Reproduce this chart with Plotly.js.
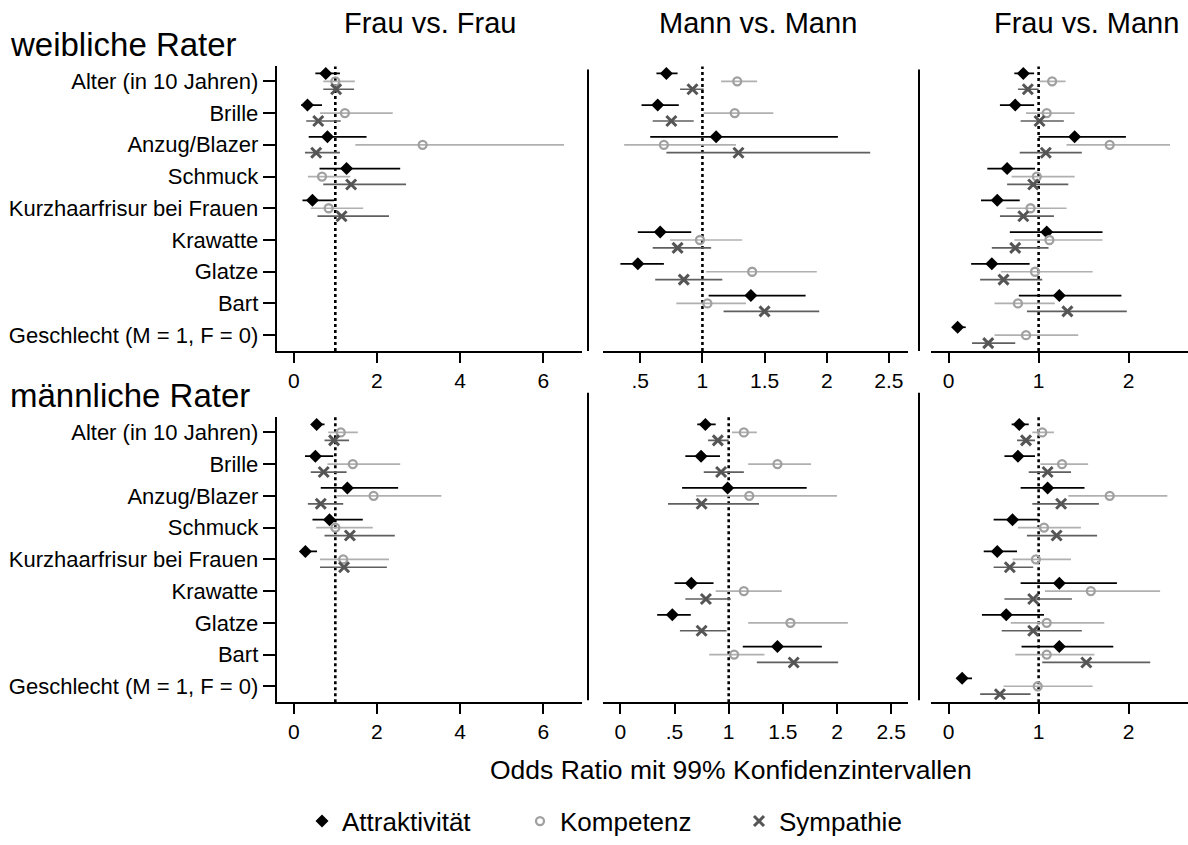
<!DOCTYPE html>
<html>
<head>
<meta charset="utf-8">
<script src="https://cdn.plot.ly/plotly-3.0.1.min.js"></script>
<style>
html,body{margin:0;padding:0;background:#fff;}
#chart{width:1188px;height:845px;}
</style>
</head>
<body>
<div id="chart"></div>
<script>
// ---------- DATA ----------
const categories = ['Alter (in 10 Jahren)','Brille','Anzug/Blazer','Schmuck','Kurzhaarfrisur bei Frauen','Krawatte','Glatze','Bart','Geschlecht (M = 1, F = 0)'];
const seriesNames = ['Attraktivität','Kompetenz','Sympathie'];
const panelTitles = ['Frau vs. Frau','Mann vs. Mann','Frau vs. Mann'];
const rowTitles = ['weibliche Rater','männliche Rater'];
const xTitle = 'Odds Ratio mit 99% Konfidenzintervallen';
const tickValsFF = [0,2,4,6];
const tickTextFF = ['0','2','4','6'];
const tickValsMMtop = [0.5,1,1.5,2,2.5];
const tickTextMMtop = ['.5','1','1.5','2','2.5'];
const tickValsMMbot = [0,0.5,1,1.5,2,2.5];
const tickTextMMbot = ['0','.5','1','1.5','2','2.5'];
const tickValsFM = [0,1,2];
const tickTextFM = ['0','1','2'];
const N = null;

// weibliche Rater – Frau vs. Frau
const w_ff_attr    = [0.77,0.33,0.81,1.27,0.45,N,N,N,N];
const w_ff_attr_lo = [0.52,0.18,0.36,0.62,0.21,N,N,N,N];
const w_ff_attr_hi = [1.11,0.68,1.75,2.56,0.97,N,N,N,N];
const w_ff_komp    = [1.00,1.23,3.10,0.68,0.84,N,N,N,N];
const w_ff_komp_lo = [0.71,0.63,1.48,0.34,0.41,N,N,N,N];
const w_ff_komp_hi = [1.47,2.38,6.50,1.36,1.67,N,N,N,N];
const w_ff_symp    = [1.02,0.59,0.54,1.38,1.15,N,N,N,N];
const w_ff_symp_lo = [0.71,0.30,0.27,0.71,0.57,N,N,N,N];
const w_ff_symp_hi = [1.45,1.13,1.11,2.70,2.29,N,N,N,N];
// weibliche Rater – Mann vs. Mann
const w_mm_attr    = [0.71,0.64,1.11,N,N,0.66,0.48,1.39,N];
const w_mm_attr_lo = [0.63,0.51,0.58,N,N,0.48,0.34,1.05,N];
const w_mm_attr_hi = [0.80,0.81,2.09,N,N,0.91,0.69,1.83,N];
const w_mm_komp    = [1.28,1.26,0.69,N,N,0.98,1.40,1.04,N];
const w_mm_komp_lo = [1.15,1.01,0.37,N,N,0.74,1.03,0.79,N];
const w_mm_komp_hi = [1.44,1.57,1.27,N,N,1.32,1.92,1.35,N];
const w_mm_symp    = [0.92,0.75,1.29,N,N,0.80,0.85,1.50,N];
const w_mm_symp_lo = [0.82,0.60,0.71,N,N,0.60,0.62,1.17,N];
const w_mm_symp_hi = [1.01,0.93,2.35,N,N,1.07,1.16,1.94,N];
// weibliche Rater – Frau vs. Mann
const w_fm_attr    = [0.83,0.74,1.40,0.65,0.54,1.09,0.48,1.23,0.10];
const w_fm_attr_lo = [0.73,0.57,1.00,0.43,0.36,0.68,0.25,0.78,0.06];
const w_fm_attr_hi = [0.95,0.95,1.97,0.96,0.79,1.71,0.90,1.92,0.19];
const w_fm_komp    = [1.15,1.09,1.79,0.98,0.91,1.12,0.96,0.77,0.86];
const w_fm_komp_lo = [1.01,0.86,1.31,0.70,0.64,0.73,0.58,0.51,0.51];
const w_fm_komp_hi = [1.30,1.40,2.46,1.40,1.31,1.71,1.60,1.18,1.44];
const w_fm_symp    = [0.88,1.01,1.08,0.94,0.83,0.74,0.61,1.32,0.44];
const w_fm_symp_lo = [0.77,0.80,0.79,0.65,0.57,0.48,0.35,0.87,0.26];
const w_fm_symp_hi = [1.00,1.28,1.48,1.33,1.17,1.11,1.04,1.98,0.74];
// männliche Rater – Frau vs. Frau
const m_ff_attr    = [0.55,0.52,1.29,0.86,0.28,N,N,N,N];
const m_ff_attr_lo = [0.44,0.27,0.65,0.45,0.18,N,N,N,N];
const m_ff_attr_hi = [0.74,0.95,2.51,1.66,0.56,N,N,N,N];
const m_ff_komp    = [1.13,1.42,1.92,1.00,1.19,N,N,N,N];
const m_ff_komp_lo = [0.83,0.81,1.02,0.54,0.63,N,N,N,N];
const m_ff_komp_hi = [1.54,2.56,3.55,1.90,2.29,N,N,N,N];
const m_ff_symp    = [0.97,0.72,0.65,1.35,1.21,N,N,N,N];
const m_ff_symp_lo = [0.74,0.41,0.34,0.74,0.63,N,N,N,N];
const m_ff_symp_hi = [1.33,1.27,1.19,2.43,2.24,N,N,N,N];
// männliche Rater – Mann vs. Mann
const m_mm_attr    = [0.785,0.745,0.99,N,N,0.655,0.48,1.45,N];
const m_mm_attr_lo = [0.71,0.60,0.57,N,N,0.50,0.34,1.13,N];
const m_mm_attr_hi = [0.88,0.92,1.72,N,N,0.86,0.65,1.86,N];
const m_mm_komp    = [1.14,1.45,1.19,N,N,1.14,1.57,1.05,N];
const m_mm_komp_lo = [1.03,1.18,0.70,N,N,0.88,1.18,0.82,N];
const m_mm_komp_hi = [1.26,1.76,2.00,N,N,1.49,2.10,1.33,N];
const m_mm_symp    = [0.90,0.93,0.75,N,N,0.79,0.75,1.60,N];
const m_mm_symp_lo = [0.81,0.77,0.44,N,N,0.60,0.55,1.26,N];
const m_mm_symp_hi = [1.00,1.14,1.28,N,N,1.02,0.98,2.01,N];
// männliche Rater – Frau vs. Mann
const m_fm_attr    = [0.785,0.77,1.10,0.71,0.54,1.23,0.64,1.23,0.15];
const m_fm_attr_lo = [0.70,0.62,0.80,0.50,0.39,0.80,0.37,0.81,0.09];
const m_fm_attr_hi = [0.89,0.96,1.51,1.00,0.76,1.87,1.06,1.83,0.26];
const m_fm_komp    = [1.04,1.26,1.79,1.06,0.97,1.58,1.09,1.09,0.99];
const m_fm_komp_lo = [0.93,1.02,1.33,0.77,0.71,1.07,0.69,0.74,0.61];
const m_fm_komp_hi = [1.17,1.55,2.43,1.47,1.36,2.35,1.73,1.62,1.60];
const m_fm_symp    = [0.86,1.10,1.25,1.20,0.68,0.94,0.94,1.53,0.57];
const m_fm_symp_lo = [0.76,0.89,0.93,0.87,0.50,0.62,0.59,1.04,0.35];
const m_fm_symp_hi = [0.96,1.36,1.67,1.65,0.94,1.37,1.48,2.24,0.91];

// ---------- BUILD ----------
const W = 1188, H = 845;
const px = v => v / W;
const py = v => 1 - v / H;
const FONT = 'Liberation Sans, Arial, Helvetica, sans-serif';

const styles = [
  {offset:-0.25, marker:{symbol:'diamond', size:10, color:'#000000', line:{width:0}}, err:'#000000', legend:'legend'},
  {offset:0, marker:{symbol:'circle-open', size:8, color:'#a0a0a0', line:{width:2.3, color:'#a0a0a0'}}, err:'#b0b0b0', legend:'legend2'},
  {offset:0.25, marker:{symbol:'x-thin-open', size:10, color:'#555555', line:{width:3, color:'#555555'}}, err:'#5f5f5f', legend:'legend3'}
];

const panels = [
  {ax:'', data:[[w_ff_attr,w_ff_attr_lo,w_ff_attr_hi],[w_ff_komp,w_ff_komp_lo,w_ff_komp_hi],[w_ff_symp,w_ff_symp_lo,w_ff_symp_hi]]},
  {ax:'2', data:[[w_mm_attr,w_mm_attr_lo,w_mm_attr_hi],[w_mm_komp,w_mm_komp_lo,w_mm_komp_hi],[w_mm_symp,w_mm_symp_lo,w_mm_symp_hi]]},
  {ax:'3', data:[[w_fm_attr,w_fm_attr_lo,w_fm_attr_hi],[w_fm_komp,w_fm_komp_lo,w_fm_komp_hi],[w_fm_symp,w_fm_symp_lo,w_fm_symp_hi]]},
  {ax:'4', data:[[m_ff_attr,m_ff_attr_lo,m_ff_attr_hi],[m_ff_komp,m_ff_komp_lo,m_ff_komp_hi],[m_ff_symp,m_ff_symp_lo,m_ff_symp_hi]]},
  {ax:'5', data:[[m_mm_attr,m_mm_attr_lo,m_mm_attr_hi],[m_mm_komp,m_mm_komp_lo,m_mm_komp_hi],[m_mm_symp,m_mm_symp_lo,m_mm_symp_hi]]},
  {ax:'6', data:[[m_fm_attr,m_fm_attr_lo,m_fm_attr_hi],[m_fm_komp,m_fm_komp_lo,m_fm_komp_hi],[m_fm_symp,m_fm_symp_lo,m_fm_symp_hi]]}
];

const traces = [];
panels.forEach((p, pi) => {
  p.data.forEach((d, si) => {
    const st = styles[si];
    const [est, lo, hi] = d;
    const x = [], y = [], ep = [], em = [];
    est.forEach((v, i) => {
      if (v === null) return;
      x.push(v);
      y.push(i + st.offset);
      ep.push(hi[i] - v);
      em.push(v - lo[i]);
    });
    traces.push({
      type:'scatter', mode:'markers', name: seriesNames[si],
      x: x, y: y,
      xaxis:'x' + p.ax, yaxis:'y' + p.ax,
      marker: st.marker,
      error_x: {type:'data', symmetric:false, array:ep, arrayminus:em, width:0, thickness:1.7, color:st.err},
      showlegend: pi === 0,
      legend: st.legend,
      hoverinfo:'skip'
    });
  });
});

const xDomA = [px(276.7), px(581.5)];
const xDomB = [px(603), px(908)];
const xDomC = [px(931), 1];
const yDomTop = [py(354), py(67)];
const yDomBot = [py(708), py(420)];
const yRangeTop = [8.5, -0.469];
const yRangeBot = [8.5, -0.5];

function xAxis(dom, range, tv, tt, anchor) {
  return {domain:dom, range:range, anchor:anchor, tickvals:tv, ticktext:tt,
    showline:true, linecolor:'#000', linewidth:2, ticks:'outside', ticklen:10, tickwidth:2, tickcolor:'#000',
    showgrid:false, zeroline:false, fixedrange:true,
    tickfont:{family:FONT, size:21, color:'#000'}};
}
function yAxisMain(dom, range, anchor) {
  return {domain:dom, range:range, anchor:anchor, tickvals:categories.map((c,i)=>i), ticktext:categories,
    showline:true, linecolor:'#000', linewidth:2, ticks:'outside', ticklen:12, tickwidth:2, tickcolor:'#000',
    showgrid:false, zeroline:false, fixedrange:true,
    tickfont:{family:FONT, size:22, color:'#000'}};
}
function yAxisHidden(dom, range, anchor) {
  return {domain:dom, range:range, anchor:anchor, showline:false, ticks:'', showticklabels:false,
    showgrid:false, zeroline:false, fixedrange:true};
}

const legendFont = {family:FONT, size:26, color:'#000'};
const layout = {
  width:W, height:H,
  margin:{l:0, r:0, t:0, b:0, pad:0},
  paper_bgcolor:'#ffffff', plot_bgcolor:'rgba(0,0,0,0)',
  font:{family:FONT, color:'#000'},
  xaxis:  xAxis(xDomA, [-0.41, 6.92], tickValsFF, tickTextFF, 'y'),
  xaxis2: xAxis(xDomB, [0.2, 2.654], tickValsMMtop, tickTextMMtop, 'y2'),
  xaxis3: xAxis(xDomC, [-0.196, 2.66], tickValsFM, tickTextFM, 'y3'),
  xaxis4: xAxis(xDomA, [-0.41, 6.92], tickValsFF, tickTextFF, 'y4'),
  xaxis5: xAxis(xDomB, [-0.16, 2.655], tickValsMMbot, tickTextMMbot, 'y5'),
  xaxis6: xAxis(xDomC, [-0.196, 2.66], tickValsFM, tickTextFM, 'y6'),
  yaxis:  yAxisMain(yDomTop, yRangeTop, 'x'),
  yaxis2: yAxisHidden(yDomTop, yRangeTop, 'x2'),
  yaxis3: yAxisHidden(yDomTop, yRangeTop, 'x3'),
  yaxis4: yAxisMain(yDomBot, yRangeBot, 'x4'),
  yaxis5: yAxisHidden(yDomBot, yRangeBot, 'x5'),
  yaxis6: yAxisHidden(yDomBot, yRangeBot, 'x6'),
  shapes: [],
  annotations: [],
  legend:  {x:px(302), xanchor:'left', y:py(828), yanchor:'middle', bgcolor:'rgba(0,0,0,0)', font:legendFont},
  legend2: {x:px(520), xanchor:'left', y:py(828), yanchor:'middle', bgcolor:'rgba(0,0,0,0)', font:legendFont},
  legend3: {x:px(739), xanchor:'left', y:py(828), yanchor:'middle', bgcolor:'rgba(0,0,0,0)', font:legendFont}
};

// reference lines at OR = 1
['', '2', '3', '4', '5', '6'].forEach(a => {
  layout.shapes.push({type:'line', xref:'x' + a, yref:'y' + (a) + ' domain', x0:1, x1:1, y0:0, y1:1,
    line:{color:'#000', width:2.6, dash:'dot'}, layer:'below'});
});
// left axis lines of panels without y labels
[[588, 70, 354], [919, 70, 354], [588, 396, 706], [919, 396, 706]].forEach(l => {
  layout.shapes.push({type:'line', xref:'paper', yref:'paper', x0:px(l[0]), x1:px(l[0]), y0:py(l[1]), y1:py(l[2]),
    line:{color:'#000', width:2}});
});

// titles
const colCenters = [430, 758, 1086];
panelTitles.forEach((t, i) => {
  layout.annotations.push({text:t, xref:'paper', yref:'paper', x:px(colCenters[i]), y:py(23), xanchor:'center', yanchor:'middle',
    showarrow:false, font:{family:FONT, size:29, color:'#000'}});
});
[[rowTitles[0], 45], [rowTitles[1], 399]].forEach(r => {
  layout.annotations.push({text:r[0], xref:'paper', yref:'paper', x:px(8), y:py(r[1]), xanchor:'left', yanchor:'middle',
    showarrow:false, font:{family:FONT, size:33, color:'#000'}});
});
layout.annotations.push({text:xTitle, xref:'paper', yref:'paper', x:px(731), y:py(776), xanchor:'center', yanchor:'middle',
  showarrow:false, font:{family:FONT, size:26.5, color:'#000'}});

Plotly.newPlot('chart', traces, layout, {staticPlot:true, displayModeBar:false});
</script>
</body>
</html>
